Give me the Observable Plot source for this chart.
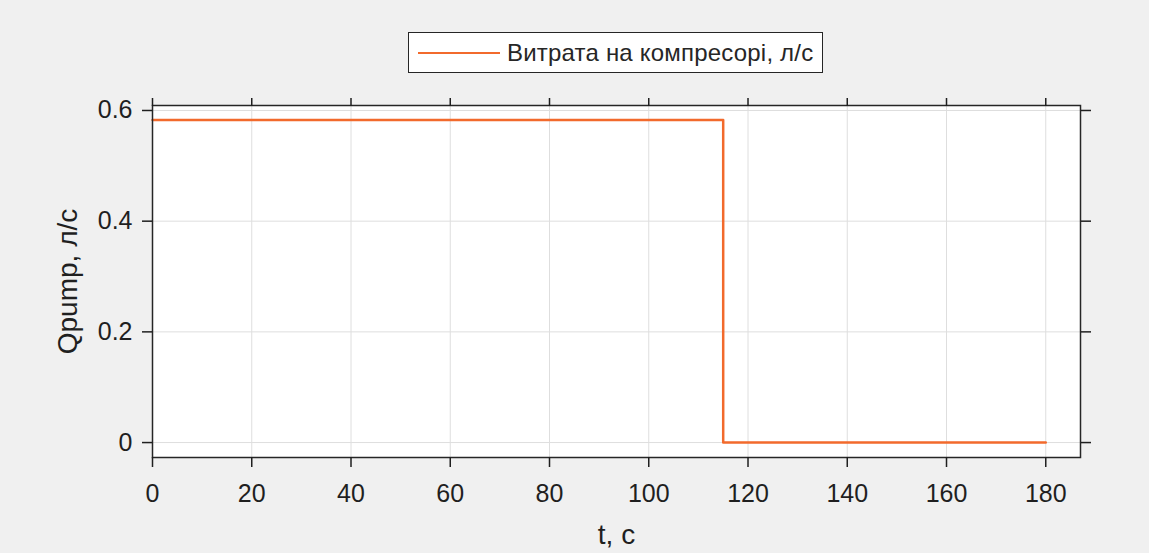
<!DOCTYPE html>
<html>
<head>
<meta charset="utf-8">
<script src="https://cdn.jsdelivr.net/npm/d3@7"></script>
<script src="https://cdn.jsdelivr.net/npm/@observablehq/plot@0.6"></script>
<style>
  html, body { margin: 0; padding: 0; background: #f0f0f0; }
  #wrap { position: relative; width: 1149px; height: 553px; overflow: hidden; }
  #legend {
    position: absolute; left: 408px; top: 32px; width: 413px; height: 39px;
    border: 1.5px solid #262626; background: #fff; box-sizing: content-box;
    display: flex; align-items: center; font-family: "Liberation Sans", Arial, sans-serif;
    font-size: 24px; letter-spacing: 0.2px; color: #262626; white-space: nowrap;
  }
  #legend .swatch { flex: 0 0 82px; width: 82px; height: 0; border-top: 2.5px solid #f26a2c; margin-left: 9px; margin-right: 7px; }
</style>
</head>
<body>
<div id="wrap">
  <div id="plot"></div>
  <div id="legend"><span class="swatch"></span><span id="legend-text"></span></div>
</div>
<script>
// Data
const seriesName = "Витрата на компресорі, л/с";
const timeS = [0, 115, 115, 180];
const qPump = [0.583, 0.583, 0, 0];
const xTicks = [0, 20, 40, 60, 80, 100, 120, 140, 160, 180];
const yTicks = [0, 0.2, 0.4, 0.6];
const xLabel = "t, c";
const yLabel = "Qpump, л/с";
const lineColor = "#f26a2c";

const data = timeS.map((t, i) => ({t, q: qPump[i]}));
document.getElementById("legend-text").textContent = seriesName;

const font = "Liberation Sans, Arial, sans-serif";
const chart = Plot.plot({
  width: 1149,
  height: 553,
  marginLeft: 152,
  marginRight: 69,
  marginTop: 105,
  marginBottom: 96,
  style: { background: "transparent", fontFamily: font, color: "#1f1f1f" },
  x: { domain: [0, 187], ticks: xTicks },
  y: { domain: [-0.027, 0.609], ticks: yTicks },
  marks: [
    Plot.frame({ fill: "white", stroke: "none" }),
    Plot.gridX(xTicks, { stroke: "#dedede", strokeOpacity: 1, strokeWidth: 1 }),
    Plot.gridY(yTicks, { stroke: "#dedede", strokeOpacity: 1, strokeWidth: 1 }),
    Plot.line(data, { x: "t", y: "q", stroke: lineColor, strokeWidth: 2.5 }),
    Plot.frame({ stroke: "#262626", strokeWidth: 1.5 }),
    Plot.axisX(xTicks, { anchor: "bottom", tickSize: 10, tickPadding: 17, fontSize: 25, strokeWidth: 1.5, label: null }),
    Plot.axisX([], { anchor: "bottom", tickSize: 0, fontSize: 28,
      label: xLabel, labelAnchor: "center", labelArrow: "none", labelOffset: 86 }),
    Plot.axisX(xTicks, { anchor: "top", tickSize: 8, tickFormat: () => "", label: null, strokeWidth: 1.5 }),
    Plot.axisY(yTicks, { anchor: "left", tickSize: 10, tickPadding: 10, fontSize: 25, strokeWidth: 1.5,
      tickFormat: d => d === 0 ? "0" : d3.format(".1f")(d), label: null }),
    Plot.axisY([], { anchor: "left", tickSize: 0, fontSize: 28,
      label: yLabel, labelAnchor: "center", labelArrow: "none", labelOffset: 95 }),
    Plot.axisY(yTicks, { anchor: "right", tickSize: 10, tickFormat: () => "", label: null, strokeWidth: 1.5 })
  ]
});
document.getElementById("plot").appendChild(chart);
</script>
</body>
</html>
